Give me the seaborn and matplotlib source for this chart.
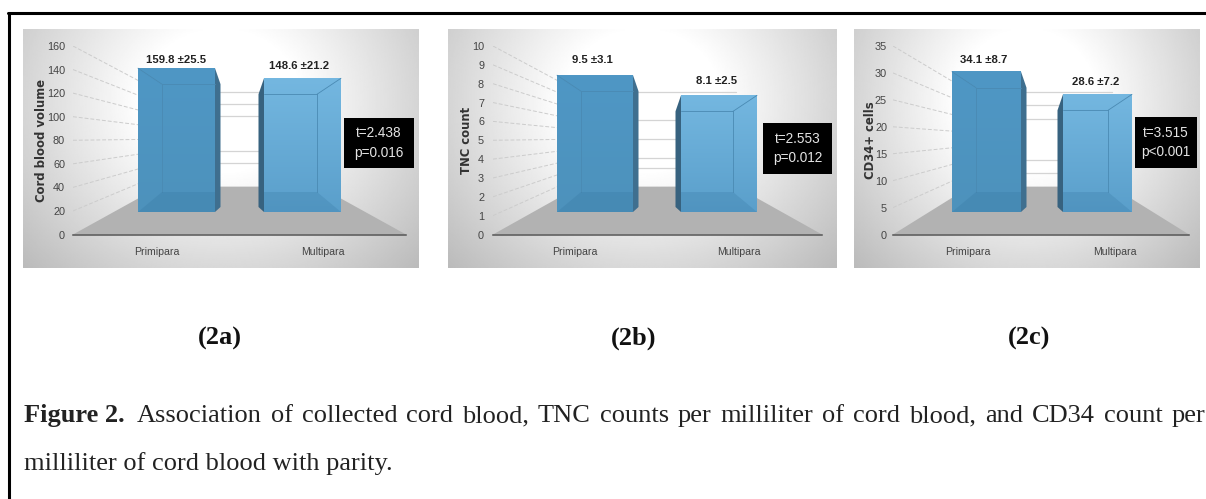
import numpy as np
import pandas as pd
import matplotlib
matplotlib.use("Agg")
import matplotlib.pyplot as plt
import seaborn as sns
from matplotlib.colors import LinearSegmentedColormap
from matplotlib.patches import Polygon, Rectangle

W, H = 1206, 499

categories = ["Primipara", "Multipara"]

volume_means = [159.8, 148.6]
volume_labels = ["159.8 ±25.5", "148.6 ±21.2"]
volume_ticks = [0, 20, 40, 60, 80, 100, 120, 140, 160]
volume_back = [160, 140, 120, 60, 40]

tnc_means = [9.5, 8.1]
tnc_labels = ["9.5 ±3.1", "8.1 ±2.5"]
tnc_ticks = [0, 1, 2, 3, 4, 5, 6, 7, 8, 9, 10]
tnc_back = [10, 7, 5, 3, 2]

cd34_means = [34.1, 28.6]
cd34_labels = ["34.1 ±8.7", "28.6 ±7.2"]
cd34_ticks = [0, 5, 10, 15, 20, 25, 30, 35]
cd34_back = [35, 30, 25, 10, 5]

y_titles = ["Cord blood volume", "TNC count", "CD34+ cells"]
stat_texts = ["t=2.438\np=0.016", "t=2.553\np=0.012", "t=3.515\np<0.001"]
panel_names = ["(2a)", "(2b)", "(2c)"]

caption_1 = ("Association of collected cord blood, TNC counts per milliliter of cord blood, "
             "and CD34 count per")
caption_2 = "milliliter of cord blood with parity."

# geometria dei pannelli, in pixel dell'immagine
layout = [
    dict(bg=(23, 418), wall=(73, 406), bars=(138, 264, 77), cats=(157, 323), tick_x=65,
         title_x=41.5, label_x=(176, 299), label_y=(60, 66), box=(344, 414, 118, 168), name_x=220),
    dict(bg=(448, 836), wall=(493, 822), bars=(557, 681, 76), cats=(575, 739), tick_x=484,
         title_x=467, label_x=(592, 717), label_y=(60, 81), box=(763, 832, 123, 174), name_x=634),
    dict(bg=(854, 1200), wall=(893, 1189), bars=(952, 1063, 69), cats=(968, 1115), tick_x=887,
         title_x=870, label_x=(984, 1096), label_y=(60, 82), box=(1135, 1197, 117, 168), name_x=1029),
]

SANS = ["Liberation Sans", "DejaVu Sans"]
bar_fades = [("#4f97c5", "#4d92bc"), ("#74b7e0", "#5a9fcb")]

sns.set_theme(style="white")
plt.rcParams["font.family"] = ["Liberation Serif", "DejaVu Serif"]

fig = plt.figure(figsize=(W / 100, H / 100), dpi=100, facecolor="white")


def px_axes(x0, x1, ytop, ybottom, **kw):
    return fig.add_axes([x0 / W, 1 - ybottom / H, (x1 - x0) / W, (ybottom - ytop) / H], **kw)


def background(x0, x1):
    ax = px_axes(x0, x1, 29, 268, zorder=0)
    u, v = np.meshgrid(np.linspace(-1, 1, 300), np.linspace(0, 1, 200))
    d = np.sqrt((u / 1.15) ** 2 + ((v - 0.3) / 0.85) ** 2)
    img = np.clip(1 - 0.27 * (d - 0.35) / 0.85, 0.72, 1)
    ax.imshow(img, cmap="gray", vmin=0, vmax=1, aspect="auto")
    ax.axis("off")


def draw_panel(means, labels, ticks, back_ticks, title, stat, cfg):
    background(*cfg["bg"])
    ymax = ticks[-1]
    x0, x1 = cfg["wall"]

    # asse "parete": tick e categorie
    wall = px_axes(x0, x1, 46, 234.5, zorder=1)
    wall.patch.set_alpha(0)
    c0, c1 = cfg["cats"]
    step = c1 - c0
    wall.set_xlim((x0 - c0) / step, (x1 - c0) / step)
    wall.set_ylim(0, ymax)
    wall.set_yticks(ticks)
    wall.set_xticks([0, 1], categories)
    wall.tick_params(axis="both", length=0, colors="#444444")
    wall.tick_params(axis="y", pad=(x0 - cfg["tick_x"]) * 0.72, labelsize=7.8)
    wall.tick_params(axis="x", pad=9, labelsize=7.6)
    for t in wall.get_xticklabels() + wall.get_yticklabels():
        t.set_family(SANS)
    sns.despine(ax=wall, left=True, top=True, right=True)
    wall.spines["bottom"].set_color("#555555")
    wall.spines["bottom"].set_linewidth(1.1)

    # pavimento e griglia in prospettiva
    floor_y = 0.254 * ymax
    shrink = 0.503
    back_l, back_r = 0.26, 0.74
    tr = wall.get_yaxis_transform()
    wall.add_patch(Polygon([(0, 0), (back_l, floor_y), (back_r, floor_y), (1, 0)],
                           transform=tr, color="#b2b2b2", lw=0, zorder=1))
    for tk in ticks[1:]:
        wall.plot([0, back_l], [tk, floor_y + shrink * tk], transform=tr, color="#cccccc", lw=0.7,
                  ls=(0, (4, 2)), zorder=1.2)
    for tk in back_ticks:
        back = floor_y + shrink * tk
        wall.plot([back_l, back_r], [back, back], transform=tr, color="#d4d4d4", lw=0.9, zorder=1.2)

    # barre frontali: 0 a 212 px, fondo scala a 68 px
    b0, b1, bw = cfg["bars"]
    spacing = b1 - b0
    left = b0 + bw / 2 - spacing / 2
    front = px_axes(left, left + 2 * spacing, 68, 212, zorder=2)
    front.patch.set_alpha(0)
    df = pd.DataFrame({"group": categories, "mean": means})
    sns.barplot(data=df, x="group", y="mean", hue="group", ax=front, width=bw / spacing,
                palette=["#4f96c3", "#66add9"], legend=False, saturation=1, linewidth=0, zorder=3)

    unit_x = 1 / spacing
    unit_y = ymax / 144
    depth = 5.5 * unit_x
    inset = 24 * unit_x
    drop = 16 * unit_y
    rise = 20 * unit_y
    for i, patch in enumerate(list(front.patches)):
        xl, xr = patch.get_x(), patch.get_x() + patch.get_width()
        top = patch.get_height()
        patch.set_clip_on(False)
        fade = LinearSegmentedColormap.from_list("fade", bar_fades[i])
        front.imshow(np.linspace(0, 1, 64).reshape(-1, 1), cmap=fade, extent=(xl, xr, 0, top),
                     aspect="auto", zorder=3.2, clip_on=False)

        edge, near, sign = (xr, xl, 1) if i == 0 else (xl, xr, -1)
        side = [(edge, top), (edge + sign * depth, top - drop),
                (edge + sign * depth, 5 * unit_y), (edge, 0)]
        front.add_patch(Polygon(side, color="#3f6f8f" if i == 0 else "#37627f", lw=0, zorder=2.5,
                                clip_on=False))
        # interno visto in trasparenza
        inner = near + sign * inset
        line = dict(color="#4a8ab3", lw=0.6, zorder=4, clip_on=False)
        front.plot([inner, inner], [rise, top - drop], **line)
        front.plot([near, inner], [top, top - drop], **line)
        front.plot([inner, edge], [top - drop, top - drop], **line)
        front.add_patch(Polygon([(near, 0), (edge, 0), (edge, rise), (inner, rise)],
                                color="#2f6f9a", alpha=0.22, lw=0, zorder=4, clip_on=False))
    front.set_xlim(-0.5, 1.5)
    front.set_ylim(0, ymax)
    front.axis("off")

    # etichette, titolo asse, box statistica
    for txt, lx, ly in zip(labels, cfg["label_x"], cfg["label_y"]):
        fig.text(lx / W, 1 - ly / H, txt, ha="center", va="center", fontsize=8.2, weight="bold",
                 family=SANS, color="#222222", zorder=6)
    fig.text(cfg["title_x"] / W, 1 - 140 / H, title, rotation=90, ha="center", va="center",
             fontsize=8.4, weight="bold", family=["DejaVu Sans"], color="#333333", zorder=6)
    bx0, bx1, by0, by1 = cfg["box"]
    fig.add_artist(Rectangle((bx0 / W, 1 - by1 / H), (bx1 - bx0) / W, (by1 - by0) / H,
                             transform=fig.transFigure, color="black", lw=0, zorder=5))
    fig.text((bx0 + bx1) / 2 / W, 1 - (by0 + by1) / 2 / H, stat, ha="center", va="center", color="#e4e4e4",
             fontsize=9.8, family=SANS, linespacing=1.5, zorder=6)


data = [
    (volume_means, volume_labels, volume_ticks, volume_back),
    (tnc_means, tnc_labels, tnc_ticks, tnc_back),
    (cd34_means, cd34_labels, cd34_ticks, cd34_back),
]
for (means, labels, ticks, back), title, stat, cfg, name in zip(data, y_titles, stat_texts, layout, panel_names):
    draw_panel(means, labels, ticks, back, title, stat, cfg)
    fig.text(cfg["name_x"] / W, 1 - 338 / H, name, ha="center", va="center", fontsize=19, weight="bold",
             color="#111111")

# cornice
fig.add_artist(plt.Line2D([7.5 / W, 1], [1 - 13 / H, 1 - 13 / H], color="black", lw=2.2))
fig.add_artist(plt.Line2D([8.5 / W, 8.5 / W], [1 - 13 / H, 0], color="black", lw=2.2))

# didascalia: prima riga giustificata parola per parola fino al margine
CAP = dict(fontsize=19, color="#222222")
base_1 = 1 - 422 / H
head = fig.text(24 / W, base_1, "Figure 2.", weight="bold", va="baseline", **CAP)
renderer = fig.canvas.get_renderer()
words = caption_1.split(" ")
items = [fig.text(0, base_1, w, va="baseline", **CAP) for w in words]
widths = [t.get_window_extent(renderer).width for t in items]
start, end = 137, 1205
gap = (end - start - sum(widths)) / (len(words) - 1)
cursor = start
for t, w in zip(items, widths):
    t.set_x(cursor / W)
    cursor += w + gap
fig.text(24 / W, 1 - 470 / H, caption_2, va="baseline", **CAP)

fig.savefig("out.png", dpi=100)
